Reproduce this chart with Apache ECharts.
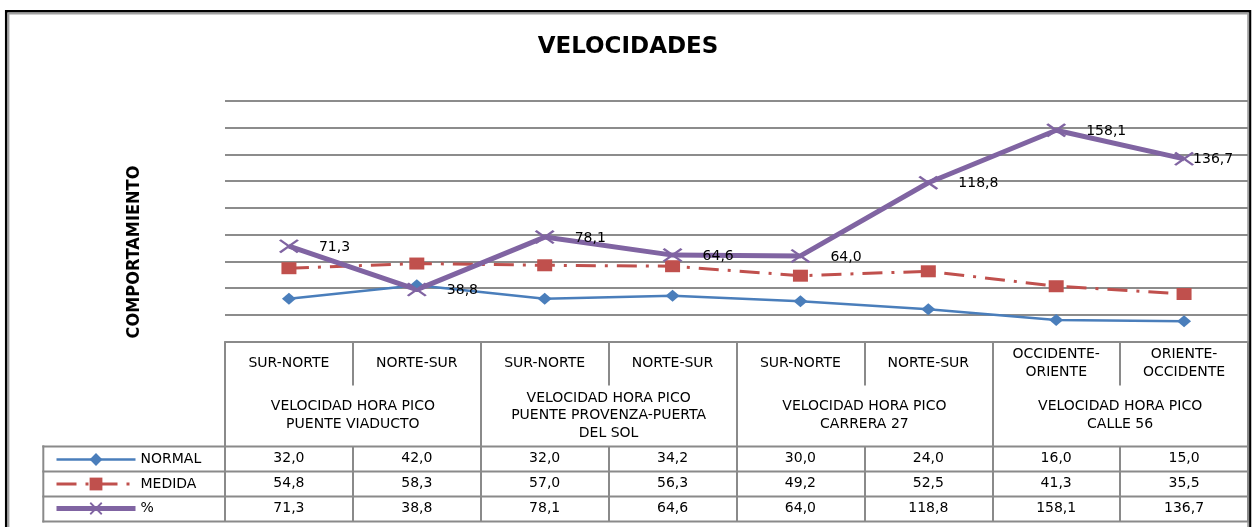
<!DOCTYPE html>
<html>
<head>
<meta charset="utf-8">
<script src="https://cdn.jsdelivr.net/npm/echarts@6/dist/echarts.min.js"></script>
<style>
html, body { margin: 0; padding: 0; background: #fff; }
#chart { width: 1256px; height: 527px; }
</style>
</head>
<body>
<div id="chart"></div>
<script>
// sentidos (una columna por punto)
var categories = ['SUR-NORTE', 'NORTE-SUR', 'SUR-NORTE', 'NORTE-SUR', 'SUR-NORTE', 'NORTE-SUR', 'OCCIDENTE-\nORIENTE', 'ORIENTE-\nOCCIDENTE'];
// puntos de aforo (dos sentidos cada uno)
var groups = [
	'VELOCIDAD HORA PICO\nPUENTE VIADUCTO',
	'VELOCIDAD HORA PICO\nPUENTE PROVENZA-PUERTA\nDEL SOL',
	'VELOCIDAD HORA PICO\nCARRERA 27',
	'VELOCIDAD HORA PICO\nCALLE 56'
];
var seriesNames = ['NORMAL', 'MEDIDA', '%'];
var normal = [32.0, 42.0, 32.0, 34.2, 30.0, 24.0, 16.0, 15.0];
var medida = [54.8, 58.3, 57.0, 56.3, 49.2, 52.5, 41.3, 35.5];
var pct = [71.3, 38.8, 78.1, 64.6, 64.0, 118.8, 158.1, 136.7];
var yMin = 0, yMax = 180, yStep = 20;

var FONT = 'DejaVu Sans';
var GRID_COLOR = '#8c8c8c';
var BORDER = '#8a8a8a';

function fmt(v) {
	return v.toFixed(1).replace('.', ',');
}

var chart = echarts.init(document.getElementById('chart'));

// eje de valores de una fila de la tabla
function valueRow(values, offset, withTicks) {
	return {
		type: 'category',
		gridIndex: 0,
		position: 'bottom',
		offset: offset,
		data: categories,
		axisLine: { show: false },
		axisTick: { show: withTicks, interval: 0, length: 75, lineStyle: { color: BORDER, width: 2 } },
		axisLabel: {
			interval: 0,
			margin: 12,
			verticalAlign: 'middle',
			color: '#000',
			fontFamily: FONT,
			fontSize: 14,
			formatter: function(v, i) { return fmt(values[i]); }
		}
	};
}

var xSymbol = 'path://M0,1 L1,0 L10,9 L9,10 Z M9,0 L10,1 L1,10 L0,9 Z';

var option = {
	animation: false,
	backgroundColor: '#fff',
	title: {
		text: 'VELOCIDADES',
		left: 'center',
		top: 36,
		padding: 0,
		textStyle: { fontFamily: FONT, fontWeight: 'bold', fontSize: 23, color: '#000' }
	},
	legend: {
		orient: 'vertical',
		left: 54,
		top: 452.5,
		padding: 0,
		itemWidth: 79,
		itemHeight: 16,
		itemGap: 10.5,
		selectedMode: false,
		lineStyle: { width: 'inherit' },
		textStyle: { fontFamily: FONT, fontSize: 14, color: '#000' },
		data: seriesNames
	},
	grid: {
		left: 225,
		right: 8,
		top: 101,
		bottom: 185.6,
		containLabel: false,
		outerBoundsMode: 'none'
	},
	xAxis: [{
		type: 'category',
		data: categories,
		axisLine: { show: true, lineStyle: { color: BORDER, width: 2 } },
		axisTick: { show: true, interval: 0, length: 44, lineStyle: { color: BORDER, width: 2 } },
		axisLabel: {
			interval: 0,
			margin: 22,
			verticalAlign: 'middle',
			lineHeight: 17.5,
			align: 'center',
			color: '#000',
			fontFamily: FONT,
			fontSize: 14
		}
	}, {
		type: 'category',
		position: 'bottom',
		data: groups,
		axisLine: { show: false },
		axisTick: { show: true, interval: 0, length: 180, lineStyle: { color: BORDER, width: 2 } },
		axisLabel: {
			interval: 0,
			margin: 74,
			verticalAlign: 'middle',
			lineHeight: 17.5,
			align: 'center',
			color: '#000',
			fontFamily: FONT,
			fontSize: 14
		}
	},
		valueRow(normal, 105, true),
		valueRow(medida, 130, false),
		valueRow(pct, 155, false)
	],
	yAxis: {
		type: 'value',
		min: yMin,
		max: yMax,
		interval: yStep,
		axisLine: { show: false },
		axisTick: { show: false },
		axisLabel: { show: false },
		splitLine: { lineStyle: { color: GRID_COLOR, width: 2 } }
	},
	series: [{
		name: seriesNames[0],
		type: 'line',
		xAxisIndex: 0,
		data: normal,
		symbol: 'diamond',
		symbolSize: [14, 12],
		color: '#4a7ebb',
		lineStyle: { color: '#4a7ebb', width: 2.5 },
		itemStyle: { color: '#4a7ebb' }
	}, {
		name: seriesNames[1],
		type: 'line',
		xAxisIndex: 0,
		data: medida,
		symbol: 'rect',
		symbolSize: [15, 12],
		color: '#c0504d',
		lineStyle: { color: '#c0504d', width: 3, type: [20, 9, 3, 9] },
		itemStyle: { color: '#c0504d' }
	}, {
		name: seriesNames[2],
		type: 'line',
		xAxisIndex: 0,
		data: pct.map(function(v, i) {
			return i === pct.length - 1 ? { value: v, label: { distance: -1 } } : v;
		}),
		symbol: xSymbol,
		symbolSize: [20, 14],
		color: '#8064a2',
		lineStyle: { color: '#8064a2', width: 5 },
		itemStyle: { color: '#8064a2' },
		label: {
			show: true,
			position: 'right',
			distance: 20,
			offset: [0, 1],
			color: '#000',
			fontFamily: FONT,
			fontSize: 14,
			formatter: function(p) { return fmt(p.value); }
		}
	}],
	graphic: [{
		type: 'rect',
		silent: true,
		shape: { x: 6.2, y: 11.3, width: 1243.8, height: 540 },
		style: { fill: 'none', stroke: '#000', lineWidth: 2.5 }
	}, {
		type: 'rect',
		silent: true,
		shape: { x: 8.4, y: 13.4, width: 1239.8, height: 540 },
		style: { fill: 'none', stroke: '#a0a0a0', lineWidth: 2 }
	}, {
		type: 'text',
		silent: true,
		x: 134,
		y: 252,
		rotation: Math.PI / 2,
		style: {
			text: 'COMPORTAMIENTO',
			fontFamily: "'DejaVu Sans Condensed', 'Liberation Sans', sans-serif",
			fontWeight: 'bold',
			fontSize: 18,
			fill: '#000',
			align: 'center',
			verticalAlign: 'middle'
		}
	}, {
		type: 'group',
		silent: true,
		children: [446.4, 471.4, 496.4, 521.4].map(function(y) {
			return {
				type: 'line',
				shape: { x1: 42.3, y1: y, x2: 1249, y2: y },
				style: { stroke: BORDER, lineWidth: 2 }
			};
		}).concat([{
			type: 'line',
			shape: { x1: 43.3, y1: 445.4, x2: 43.3, y2: 522.4 },
			style: { stroke: BORDER, lineWidth: 2 }
		}])
	}]
};

chart.setOption(option);
</script>
</body>
</html>
